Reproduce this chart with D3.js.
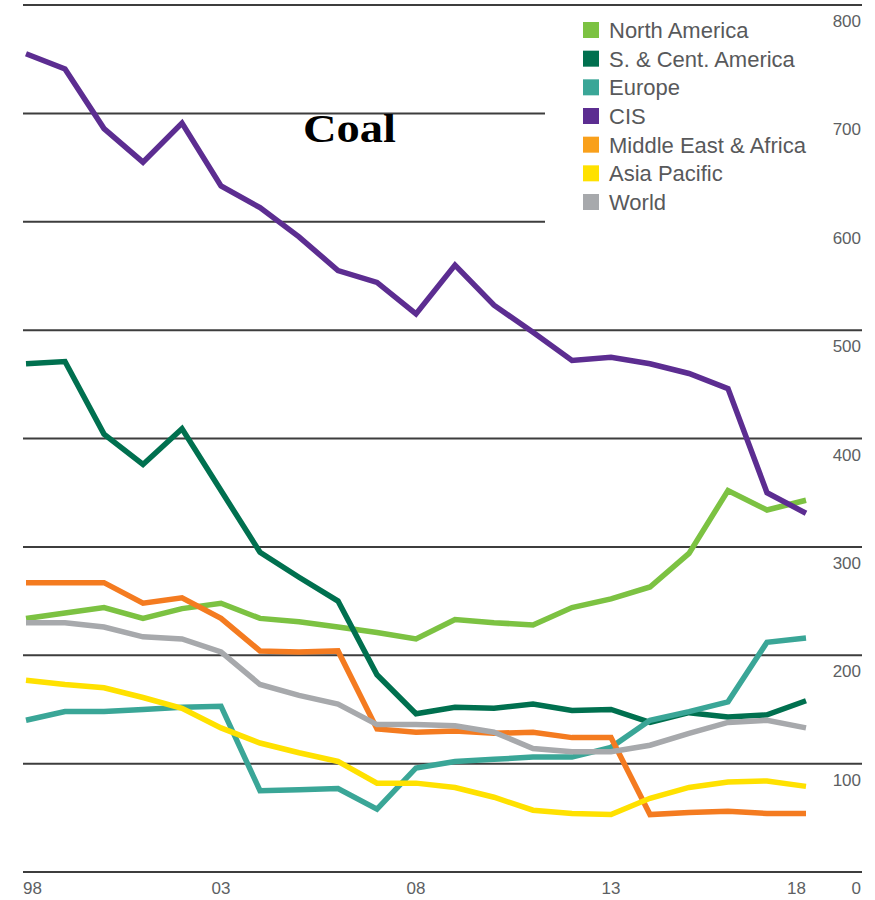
<!DOCTYPE html>
<html>
<head>
<meta charset="utf-8">
<script src="https://cdn.jsdelivr.net/npm/d3@7/dist/d3.min.js"></script>
<style>
  html, body { margin: 0; padding: 0; background: #fff; }
  svg { display: block; }
</style>
</head>
<body>
<script>
// Coal reserves-to-production style series by region, 1998–2018
const years = d3.range(1998, 2019);

const northAmerica = [234, 239, 244, 234, 243, 248, 234, 231, 226, 221, 215, 233, 230, 228, 244, 252, 263, 294, 352, 334, 343];
const southCentAmerica = [469, 471, 404, 376, 409, 352, 295, 272, 250, 182, 146, 152, 151, 155, 149, 150, 138, 147, 143, 145, 158];
const europe = [140, 148, 148, 150, 152, 153, 75, 76, 77, 58, 96, 102, 104, 106, 106, 115, 140, 148, 157, 212, 216];
const cis = [755, 741, 686, 655, 691, 633, 613, 586, 555, 544, 515, 560, 523, 498, 472, 475, 469, 460, 446, 350, 331];
const middleEastAfrica = [267, 267, 267, 248, 253, 234, 204, 203, 204, 132, 129, 130, 128, 129, 124, 124, 53, 55, 56, 54, 54];
const asiaPacific = [177, 173, 170, 161, 151, 133, 119, 110, 102, 82, 82, 78, 69, 57, 54, 53, 68, 78, 83, 84, 79];
const world = [230, 230, 226, 217, 215, 203, 173, 163, 155, 136, 136, 135, 129, 114, 111, 111, 117, 128, 138, 140, 133];

const seriesNames = ["North America", "S. & Cent. America", "Europe", "CIS", "Middle East & Africa", "Asia Pacific", "World"];
const seriesValues = [northAmerica, southCentAmerica, europe, cis, middleEastAfrica, asiaPacific, world];
const lineColors = ["#7cc242", "#00704f", "#3aa697", "#5c2d91", "#f47b20", "#ffe100", "#a7a9ac"];
const swatchColors = ["#7cc242", "#00704f", "#3aa697", "#5c2d91", "#f9a01b", "#ffe100", "#a7a9ac"];

const yTicks = [0, 100, 200, 300, 400, 500, 600, 700, 800];
const xTickYears = [1998, 2003, 2008, 2013, 2018];
const xTickLabels = ["98", "03", "08", "13", "18"];
const title = "Coal";

const W = 875, H = 900;
const svg = d3.select("body").append("svg").attr("width", W).attr("height", H);

const x = d3.scaleLinear().domain([1998, 2018]).range([26, 806]);
const y = d3.scaleLinear().domain([0, 800]).range([872, 5]);

const gridLeft = 23, gridRight = 862, legendGap = 545;

// horizontal gridlines (the 600 and 700 lines stop short of the legend)
svg.append("g").selectAll("line").data(yTicks).join("line")
  .attr("x1", gridLeft)
  .attr("x2", d => (d === 600 || d === 700) ? legendGap : gridRight)
  .attr("y1", d => y(d)).attr("y2", d => y(d))
  .attr("stroke", "#3d3d3d").attr("stroke-width", 2);

// right-hand value labels, sitting just below each gridline
svg.append("g").selectAll("text").data(yTicks).join("text")
  .attr("x", 861)
  .attr("y", d => y(d) + 22)
  .attr("text-anchor", "end")
  .attr("font-family", "Liberation Sans, Arial, sans-serif")
  .attr("font-size", 17)
  .attr("fill", "#5d5f63")
  .text(d => d);

// year labels along the bottom
svg.append("g").selectAll("text").data(xTickYears).join("text")
  .attr("x", (d, i) => i === 0 ? x(d) - 3 : x(d))
  .attr("y", 894)
  .attr("text-anchor", (d, i) => i === 0 ? "start" : (i === xTickYears.length - 1 ? "end" : "middle"))
  .attr("font-family", "Liberation Sans, Arial, sans-serif")
  .attr("font-size", 17)
  .attr("fill", "#5d5f63")
  .text((d, i) => xTickLabels[i]);

// series lines
const line = d3.line().x((d, i) => x(years[i])).y(d => y(d));
svg.append("g").selectAll("path").data(seriesValues).join("path")
  .attr("d", d => line(d))
  .attr("fill", "none")
  .attr("stroke", (d, i) => lineColors[i])
  .attr("stroke-width", 5.5)
  .attr("stroke-linejoin", "miter")
  .attr("stroke-miterlimit", 3);

// legend
const legend = svg.append("g").attr("transform", "translate(583,0)");
const rowY = d3.scaleLinear().domain([0, 6]).range([30, 202]);
const rows = legend.selectAll("g").data(seriesNames).join("g")
  .attr("transform", (d, i) => `translate(0,${rowY(i)})`);
rows.append("rect")
  .attr("x", 0).attr("y", -8).attr("width", 16).attr("height", 16)
  .attr("fill", (d, i) => swatchColors[i]);
rows.append("text")
  .attr("x", 26).attr("y", 8)
  .attr("font-family", "Liberation Sans, Arial, sans-serif")
  .attr("font-size", 22)
  .attr("fill", "#58595b")
  .text(d => d);

// chart title
svg.append("text")
  .attr("x", 303).attr("y", 142)
  .attr("font-family", "Liberation Serif, 'Times New Roman', serif")
  .attr("font-weight", "bold")
  .attr("font-size", 40)
  .attr("textLength", 93)
  .attr("lengthAdjust", "spacingAndGlyphs")
  .attr("fill", "#000")
  .text(title);
</script>
</body>
</html>
